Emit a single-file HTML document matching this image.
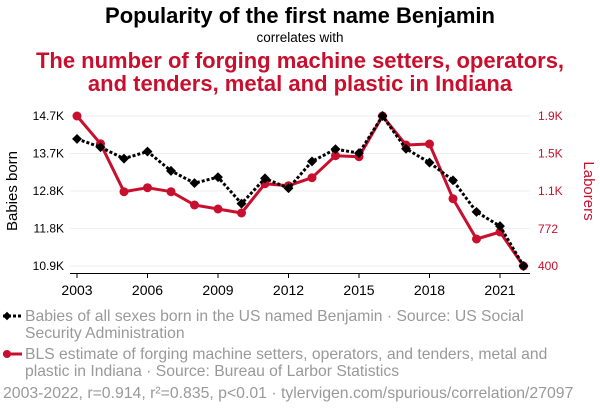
<!DOCTYPE html>
<html><head><meta charset="utf-8"><style>
body{margin:0;width:600px;height:414px;background:#fff;font-family:"Liberation Sans",sans-serif;overflow:hidden}
</style></head><body>
<svg width="600" height="414" xmlns="http://www.w3.org/2000/svg" font-family="Liberation Sans, sans-serif">
<text x="300" y="23" text-anchor="middle" font-size="22" font-weight="bold" fill="#000">Popularity of the first name Benjamin</text>
<text x="300" y="42" text-anchor="middle" font-size="13.5" fill="#000">correlates with</text>
<text x="300" y="68" text-anchor="middle" font-size="22" font-weight="bold" fill="#c8102e">The number of forging machine setters, operators,</text>
<text x="300" y="91" text-anchor="middle" font-size="22" font-weight="bold" fill="#c8102e">and tenders, metal and plastic in Indiana</text>
<g id="grid"></g><g id="axes"></g><g id="marks"></g>
<text transform="translate(17,191) rotate(-90)" text-anchor="middle" font-size="15" fill="#000">Babies born</text>
<text transform="translate(584,191) rotate(90)" text-anchor="middle" font-size="15" fill="#c8102e">Laborers</text>
<g>
<line x1="3" y1="316" x2="22" y2="316" stroke="#000" stroke-width="3" stroke-dasharray="3,2"/>
<rect x="4" y="313" width="6" height="6" transform="rotate(45 7 316)" fill="#000"/>
<text x="25" y="321" font-size="15.7" fill="#999">Babies of all sexes born in the US named Benjamin · Source: US Social</text>
<text x="25" y="338" font-size="15.7" fill="#999">Security Administration</text></g>
<g>
<line x1="3" y1="354" x2="22" y2="354" stroke="#c8102e" stroke-width="3"/>
<circle cx="7" cy="354" r="4" fill="#c8102e"/>
<text x="25" y="359" font-size="15.7" fill="#999">BLS estimate of forging machine setters, operators, and tenders, metal and</text>
<text x="25" y="376" font-size="15.7" fill="#999">plastic in Indiana · Source: Bureau of Larbor Statistics</text></g>
<text x="3" y="398" font-size="15.8" fill="#999">2003-2022, r=0.914, r²=0.835, p&lt;0.01 · tylervigen.com/spurious/correlation/27097</text>
</svg>
<script>
const years=[2003,2004,2005,2006,2007,2008,2009,2010,2011,2012,2013,2014,2015,2016,2017,2018,2019,2020,2021,2022];
const babies=[14120,13910,13620,13800,13310,13000,13150,12480,13120,12870,13550,13860,13760,14700,13870,13520,13070,12270,11910,10900];
const laborers=[1900,1623,1143,1183,1143,1010,970,930,1223,1203,1283,1503,1493,1900,1610,1620,1073,670,740,400];
const leftTicks=[14700,13750,12800,11850,10900];
const leftLabels=["14.7K","13.7K","12.8K","11.8K","10.9K"];
const rightTicks=[1900,1525,1150,772,400];
const rightLabels=["1.9K","1.5K","1.1K","772","400"];
const xTicks=[2003,2006,2009,2012,2015,2018,2021];
const NS="http://www.w3.org/2000/svg";
const x=v=>77+(v-2003)*(423/18);
const yL=v=>116+(14700-v)/3800*150;
const yR=v=>116+(1900-v)/1500*150;
function mk(t,a,p){const e=document.createElementNS(NS,t);for(const k in a)e.setAttribute(k,a[k]);p.appendChild(e);return e;}
const grid=document.getElementById('grid'),axes=document.getElementById('axes'),marks=document.getElementById('marks');
leftTicks.forEach((t,i)=>{
 const g=mk('line',{x1:70,x2:530,y1:yL(t),y2:yL(t),stroke:'#eee','stroke-width':1},grid);
 
 
 const l=mk('text',{x:64,y:yL(t)+4,'text-anchor':'end','font-size':12,fill:'#000'},axes);l.textContent=leftLabels[i];
 
 
});
rightTicks.forEach((t,i)=>{
 const l=mk('text',{x:538,y:yR(t)+4,'font-size':12,fill:'#c8102e'},axes);l.textContent=rightLabels[i];
 
 
});
const ax=mk('line',{x1:70,x2:530,y1:273.5,y2:273.5,stroke:'#000','stroke-width':1},axes);


xTicks.forEach(t=>{
 mk('line',{x1:x(t),x2:x(t),y1:273,y2:278,stroke:'#000'},axes);
 const l=mk('text',{x:x(t),y:295,'text-anchor':'middle','font-size':14,fill:'#000'},axes);l.textContent=t;
 
 
});
const rl=mk('polyline',{points:years.map((yr,i)=>x(yr)+','+yR(laborers[i])).join(' '),fill:'none',stroke:'#c8102e','stroke-width':3,'stroke-linejoin':'round'},marks);


years.forEach((yr,i)=>{const c=mk('circle',{cx:x(yr),cy:yR(laborers[i]),r:4.5,fill:'#c8102e'},marks);
 
 });
const bl=mk('polyline',{points:years.map((yr,i)=>x(yr)+','+yL(babies[i])).join(' '),fill:'none',stroke:'#000','stroke-width':3,'stroke-dasharray':'3,2'},marks);


years.forEach((yr,i)=>{const cx=x(yr),cy=yL(babies[i]);
 const r=mk('rect',{x:cx-3.5,y:cy-3.5,width:7,height:7,fill:'#000',transform:`rotate(45 ${cx} ${cy})`},marks);
 
 });
</script>
</body></html>
